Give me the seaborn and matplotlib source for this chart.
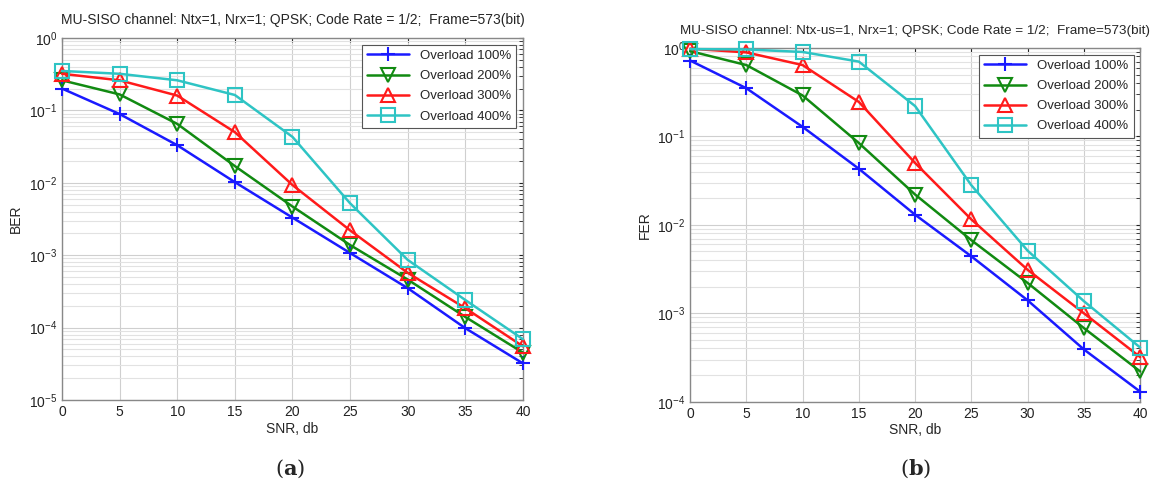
import numpy as np
import pandas as pd
import matplotlib
matplotlib.use("Agg")
import matplotlib.pyplot as plt
import seaborn as sns

snr = [0, 5, 10, 15, 20, 25, 30, 35, 40]
labels = ["Overload 100%", "Overload 200%", "Overload 300%", "Overload 400%"]

ber_100 = [0.20, 0.089, 0.033, 0.0102, 0.0033, 0.00107, 0.00035, 9.8e-5, 3.2e-5]
ber_200 = [0.26, 0.166, 0.065, 0.017, 0.0047, 0.00138, 0.00046, 1.4e-4, 4.5e-5]
ber_300 = [0.32, 0.26, 0.16, 0.05, 0.0093, 0.0022, 0.00057, 1.85e-4, 5.5e-5]
ber_400 = [0.35, 0.32, 0.26, 0.163, 0.043, 0.0052, 0.00086, 2.4e-4, 6.9e-5]

fer_100 = [0.72, 0.35, 0.128, 0.043, 0.013, 0.0044, 0.0014, 3.9e-4, 1.3e-4]
fer_200 = [0.92, 0.64, 0.29, 0.084, 0.022, 0.0067, 0.0022, 6.8e-4, 2.2e-4]
fer_300 = [0.98, 0.89, 0.64, 0.245, 0.05, 0.0115, 0.0031, 0.001, 3.2e-4]
fer_400 = [0.97, 0.96, 0.90, 0.70, 0.22, 0.028, 0.0051, 0.00137, 4.1e-4]

colors = ["#1a1aff", "#118a11", "#ff1a1a", "#2ec4c4"]
markers = ["+", "v", "^", "s"]

sns.set_style("whitegrid")
plt.rcParams["font.family"] = ["Liberation Sans", "DejaVu Sans"]


def make_df(series):
    rows = []
    for lab, vals in zip(labels, series):
        for x, v in zip(snr, vals):
            rows.append({"snr": x, "val": v, "load": lab})
    return pd.DataFrame(rows)


fig = plt.figure(figsize=(11.54, 4.84), dpi=100)
ax1 = fig.add_axes([0.0537, 0.1736, 0.3995, 0.748])
ax2 = fig.add_axes([0.598, 0.170, 0.390, 0.731])

panels = [
    (ax1, make_df([ber_100, ber_200, ber_300, ber_400]), "BER", (1e-5, 1),
     "MU-SISO channel: Ntx=1, Nrx=1; QPSK; Code Rate = 1/2;  Frame=573(bit)", 10),
    (ax2, make_df([fer_100, fer_200, fer_300, fer_400]), "FER", (1e-4, 1),
     "MU-SISO channel: Ntx-us=1, Nrx=1; QPSK; Code Rate = 1/2;  Frame=573(bit)", 9.7),
]

for ax, df, ylab, ylim, title, tsize in panels:
    for lab, c, m in zip(labels, colors, markers):
        sub = df[df["load"] == lab]
        sns.lineplot(data=sub, x="snr", y="val", ax=ax, color=c, marker=m,
                     markersize=10, markerfacecolor="none", markeredgecolor=c,
                     markeredgewidth=1.5, linewidth=1.8, label=lab, errorbar=None,
                     clip_on=False, zorder=3)
    ax.set_yscale("log")
    ax.set_ylim(*ylim)
    ax.set_xlim(0, 40)
    ax.set_xticks(snr)
    ax.grid(True, which="major", color="#cfcfcf", linewidth=0.8)
    ax.grid(True, which="minor", axis="y", color="#e2e2e2", linewidth=0.8)
    ax.tick_params(which="both", direction="in", length=3, labelsize=10,
                   colors="#222222", right=True, top=True)
    for s in ax.spines.values():
        s.set_color("#888888")
        s.set_linewidth(1.0)
    ax.set_xlabel("SNR, db", fontsize=10, labelpad=2)
    ax.set_ylabel(ylab, fontsize=10)
    ax.set_title(title, fontsize=tsize, pad=10)
    leg = ax.legend(loc="upper right", fontsize=9.5, frameon=True, fancybox=False,
                    edgecolor="#555555", framealpha=1, borderaxespad=0.5,
                    handlelength=3.2, labelspacing=0.6)
    leg.get_frame().set_linewidth(0.8)
    leg.set_zorder(5)

ax1.yaxis.set_label_coords(-0.085, 0.5)
ax2.yaxis.set_label_coords(-0.085, 0.5)

fig.text(0.2515, 0.02, r"($\mathbf{a}$)", fontsize=15, ha="center",
         family="DejaVu Serif", math_fontfamily="dejavuserif")
fig.text(0.793, 0.02, r"($\mathbf{b}$)", fontsize=15, ha="center",
         family="DejaVu Serif", math_fontfamily="dejavuserif")

fig.savefig("out.png", dpi=100)
